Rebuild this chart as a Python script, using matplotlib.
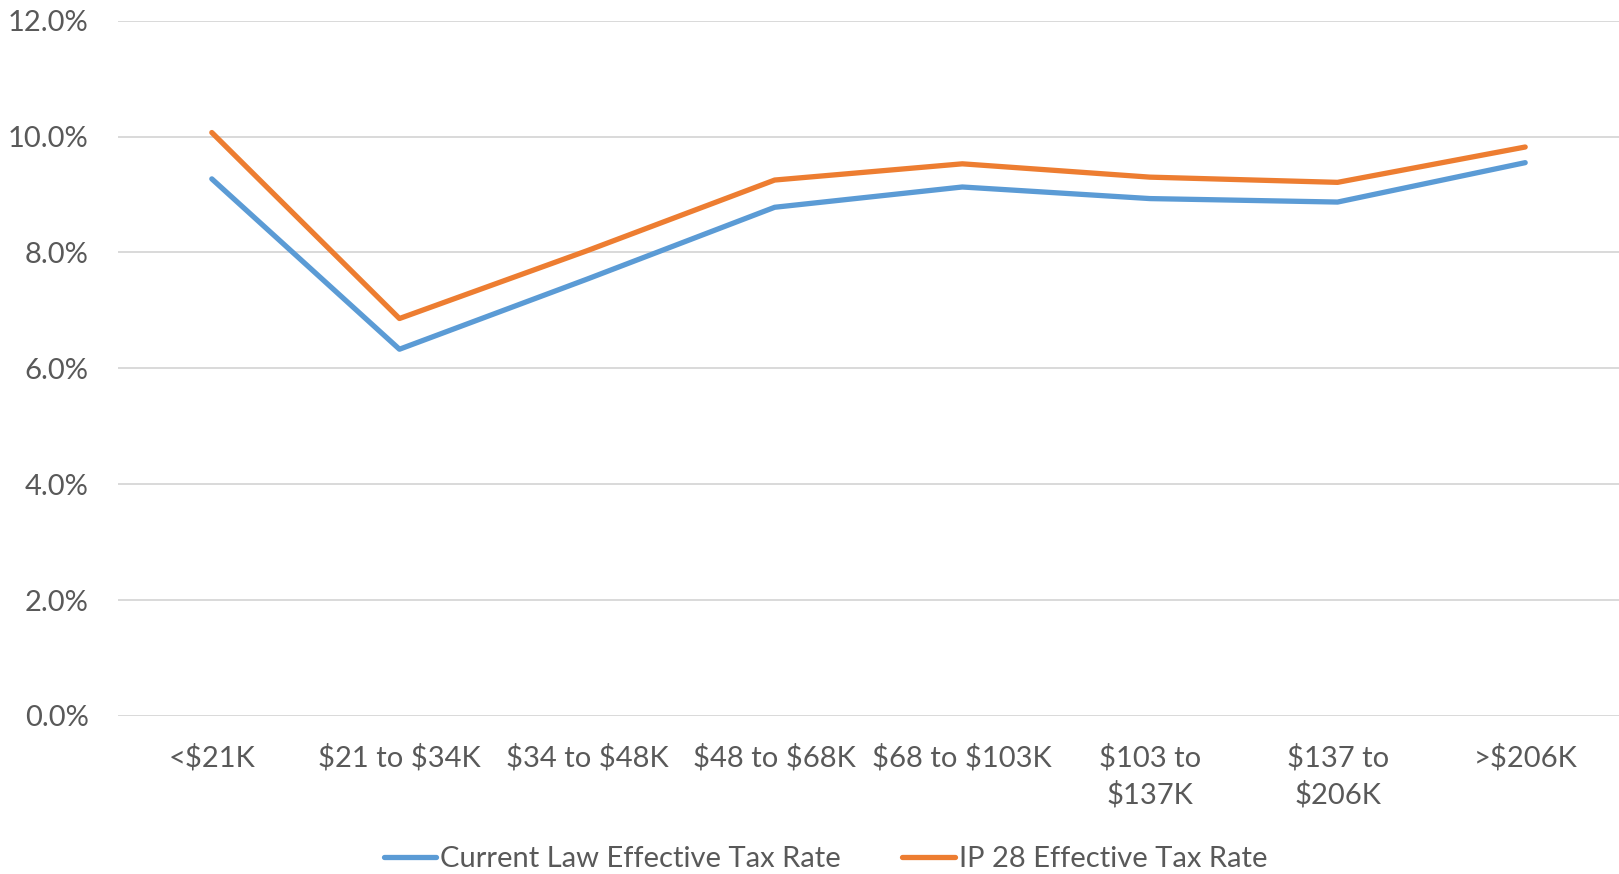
import matplotlib
matplotlib.use("Agg")
import matplotlib.pyplot as plt
from matplotlib.ticker import PercentFormatter

# income brackets and effective tax rates (%)
brackets = ["<$21K", "$21 to $34K", "$34 to $48K", "$48 to $68K",
            "$68 to $103K", "$103 to\n$137K", "$137 to\n$206K", ">$206K"]
current_law = [9.27, 6.33, 7.54, 8.78, 9.13, 8.93, 8.87, 9.55]
ip28 = [10.07, 6.86, 8.03, 9.25, 9.53, 9.30, 9.21, 9.82]

plt.rcParams['font.family'] = ['Lato', 'DejaVu Sans']
plt.rcParams['text.parse_math'] = False
txt = '#595959'

fig = plt.figure(figsize=(16.19, 8.74), dpi=100)
ax = fig.add_axes([118/1619, 158/874, 1 - 118/1619, (716-20.7)/874])

x = range(len(brackets))
ax.plot(x, current_law, color='#5B9BD5', lw=3.8, solid_capstyle='round',
        label='Current Law Effective Tax Rate', zorder=3)
ax.plot(x, ip28, color='#ED7D31', lw=3.8, solid_capstyle='round',
        label='IP 28 Effective Tax Rate', zorder=3)

ax.set_xlim(-0.5, len(brackets) - 0.5)
ax.set_ylim(0, 12)
ax.set_yticks([0, 2, 4, 6, 8, 10, 12])
ax.yaxis.set_major_formatter(PercentFormatter(decimals=1))
ax.set_xticks(list(x))
ax.set_xticklabels(brackets, linespacing=1.45)
ax.grid(axis='y', color='#D9D9D9', lw=1.4)
ax.set_axisbelow(True)
for s in ax.spines.values():
    s.set_visible(False)
ax.tick_params(axis='both', length=0, labelsize=21, colors=txt)
ax.tick_params(axis='y', pad=21)
ax.tick_params(axis='x', pad=20)

leg = fig.legend(loc='lower center', bbox_to_anchor=(0.51, -0.028), ncol=2,
                 frameon=False, fontsize=21, handlelength=1.8,
                 handletextpad=0.15, columnspacing=2.1)
for t in leg.get_texts():
    t.set_color(txt)

fig.savefig('out.png', dpi=100)
